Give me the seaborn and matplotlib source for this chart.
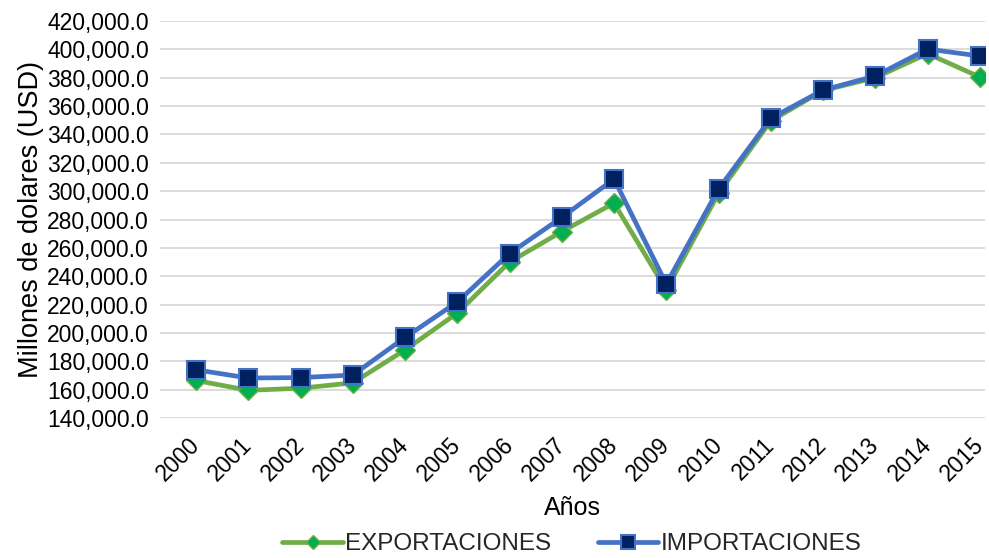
import matplotlib
matplotlib.use("Agg")
import matplotlib.pyplot as plt
import matplotlib.ticker as mticker
import matplotlib.transforms as mtransforms
import seaborn as sns
import pandas as pd

anios = list(range(2000, 2016))
exportaciones = [166500, 159500, 161000, 164800, 188000, 214000, 250000, 271500,
                 291500, 230500, 298500, 349500, 371000, 380000, 397000, 380500]
importaciones = [174000, 168200, 168500, 170300, 196800, 221800, 256000, 281500,
                 308500, 234500, 301500, 351300, 371300, 381200, 400200, 395300]

sns.set_theme(style="white")
plt.rcParams['font.family'] = ['Liberation Sans', 'DejaVu Sans']

df = pd.DataFrame({"x": range(len(anios)), "EXPORTACIONES": exportaciones,
                   "IMPORTACIONES": importaciones})

fig = plt.figure(figsize=(9.89, 5.58), dpi=100)
ax = fig.add_axes([160 / 989, 140 / 558, 825 / 989, 397 / 558])

sns.lineplot(data=df, x="x", y="EXPORTACIONES", ax=ax, color="#70AD47", lw=3.4,
             marker="D", markersize=10, markerfacecolor="#00B050",
             markeredgecolor="#70AD47", markeredgewidth=1, label="EXPORTACIONES")
sns.lineplot(data=df, x="x", y="IMPORTACIONES", ax=ax, color="#4472C4", lw=3.4,
             marker="s", markersize=13, markerfacecolor="#002060",
             markeredgecolor="#4472C4", markeredgewidth=1.5, label="IMPORTACIONES")

ax.set_ylim(140000, 420000)
ax.set_xlim(-0.69, 15.1)
ax.yaxis.set_major_locator(mticker.MultipleLocator(20000))
ax.yaxis.set_major_formatter(mticker.FuncFormatter(lambda v, p: f"{v:,.1f}"))
ax.set_xticks(range(len(anios)))
ax.set_xticklabels([str(a) for a in anios], rotation=45, ha="right", va="baseline",
                   rotation_mode="anchor")
ax.tick_params(axis="both", labelsize=16.5, colors="#000000", length=0)
ax.tick_params(axis="y", pad=8)
ax.tick_params(axis="x", pad=20)
# nudge rotated year labels a bit to the right, like the original
shift = mtransforms.ScaledTranslation(5 / 100, 0, fig.dpi_scale_trans)
for lbl in ax.get_xticklabels():
    lbl.set_transform(lbl.get_transform() + shift)
ax.grid(axis="y", color="#D9D9D9", lw=1.3)
ax.set_axisbelow(True)
for s in ax.spines.values():
    s.set_visible(False)

ax.set_xlabel("Años", fontsize=18, color="#000000", labelpad=8)
ax.set_ylabel("Millones de dolares (USD)", fontsize=19.5, color="#000000", labelpad=2)

handles, labels = ax.get_legend_handles_labels()
ax.legend_.remove()
fig.legend(handles, labels, loc="center", bbox_to_anchor=(572 / 989, 14 / 558), ncol=2,
           frameon=False, fontsize=17.5, handlelength=2.5, columnspacing=1.9,
           handletextpad=0.1, borderpad=0, markerscale=0.75)

fig.savefig("out.png", dpi=100)
